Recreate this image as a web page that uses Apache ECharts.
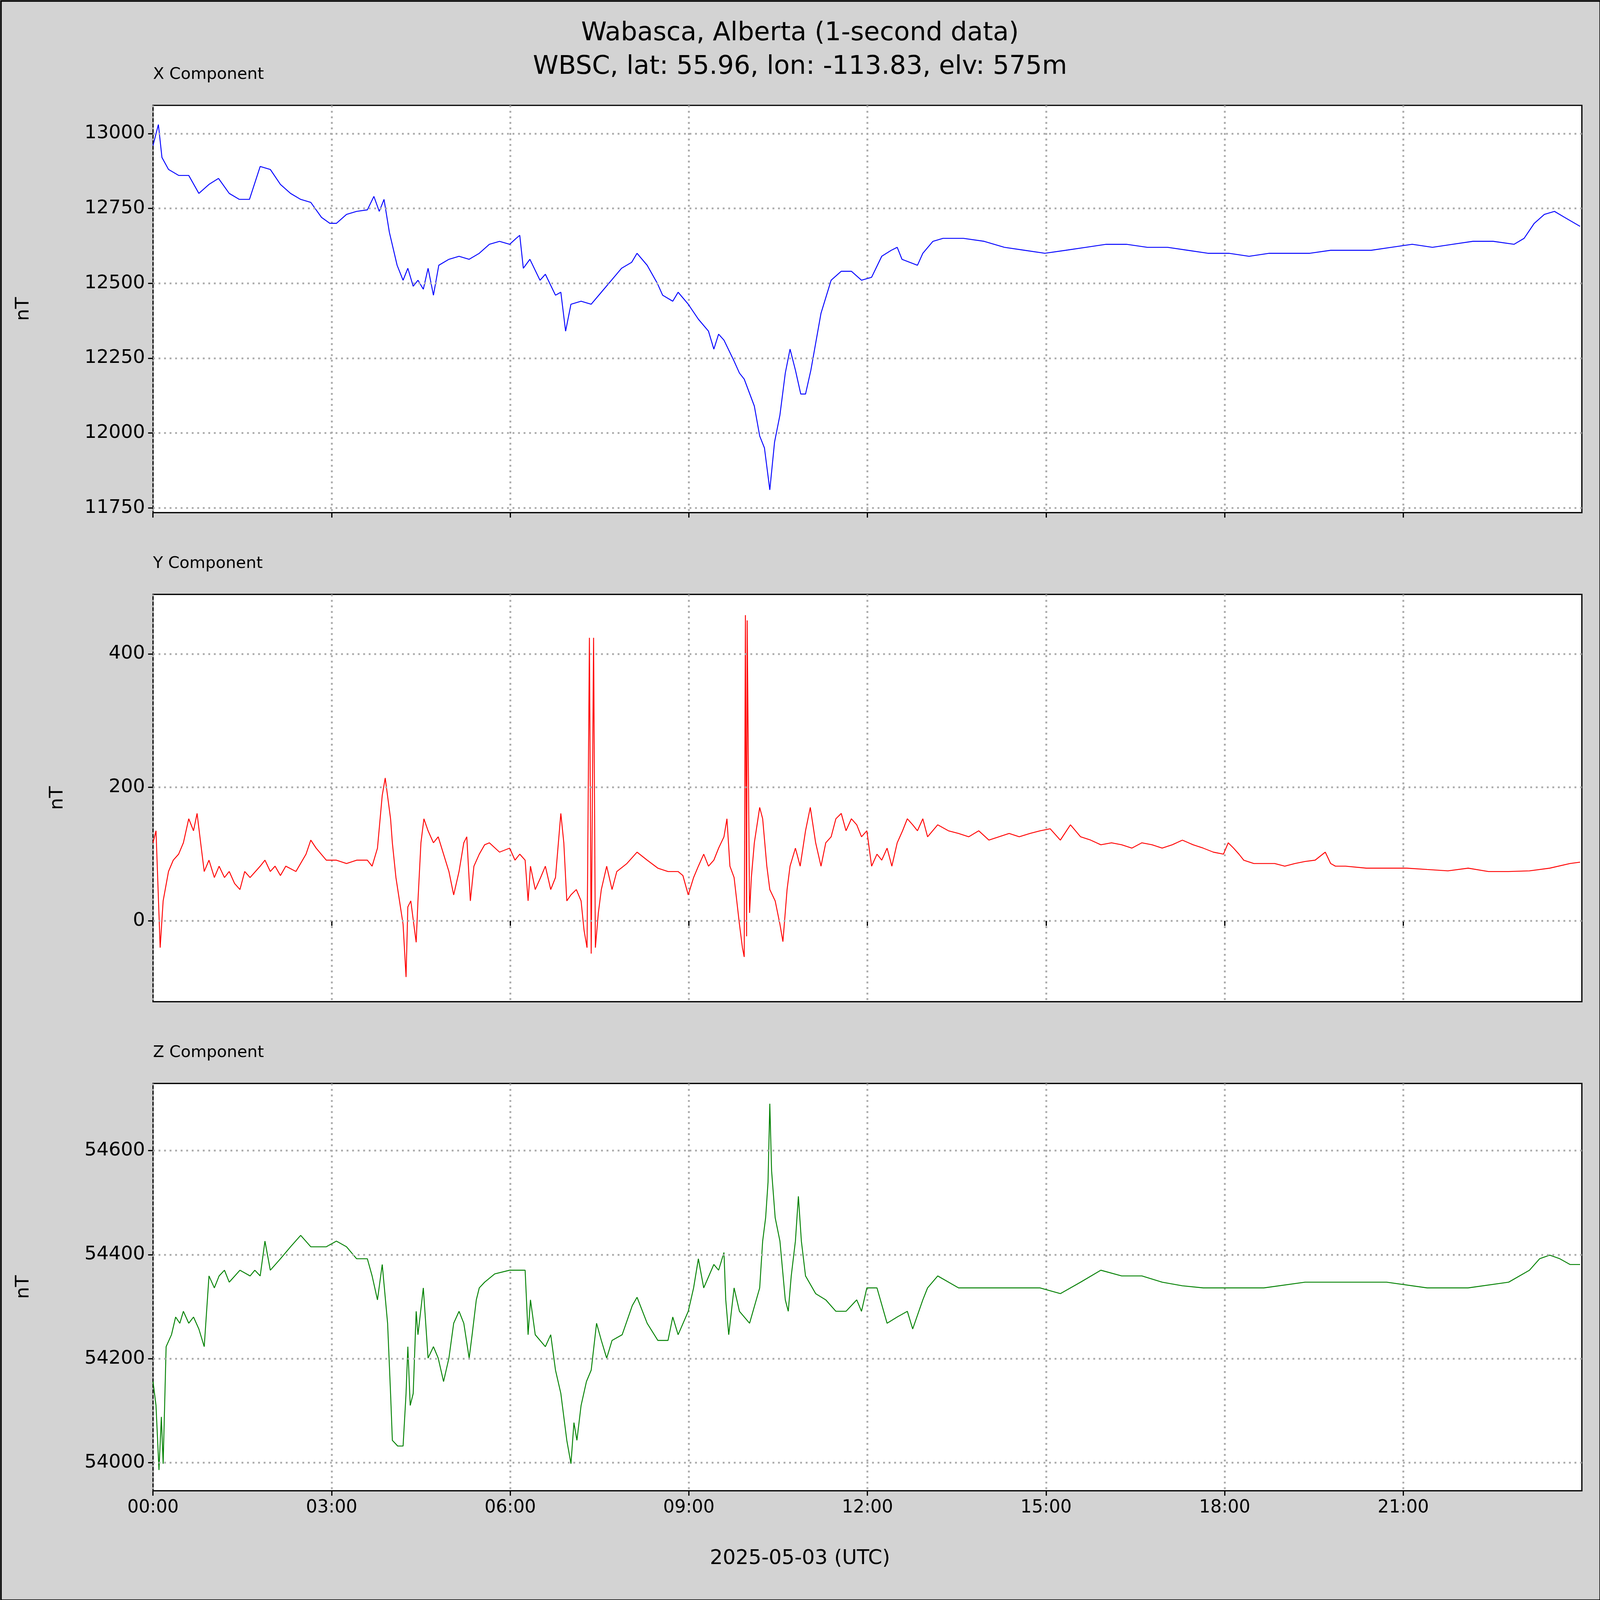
<!DOCTYPE html>
<html>
<head>
<meta charset="utf-8">
<script src="https://cdn.jsdelivr.net/npm/echarts@6/dist/echarts.min.js"></script>
<style>
  html, body { margin: 0; padding: 0; background: #d3d3d3; overflow: hidden; }
  #chart { width: 100vw; height: 100vh; }
</style>
</head>
<body>
<div id="chart"></div>
<script>
// [hour of day, nT]
const xComp = [[0,12960],[0.09,13030],[0.15,12920],[0.26,12880],[0.43,12860],[0.6,12860],[0.77,12800],[0.94,12830],[1.1,12850],[1.28,12800],[1.45,12780],[1.62,12780],[1.8,12890],[1.97,12880],[2.14,12830],[2.31,12800],[2.48,12780],[2.65,12770],[2.83,12720],[2.97,12700],[3.08,12700],[3.25,12730],[3.42,12740],[3.6,12745],[3.71,12790],[3.8,12740],[3.88,12780],[3.97,12670],[4.1,12560],[4.2,12510],[4.28,12550],[4.37,12490],[4.45,12510],[4.54,12480],[4.62,12550],[4.71,12460],[4.8,12560],[4.97,12580],[5.14,12590],[5.31,12580],[5.48,12600],[5.65,12630],[5.82,12640],[5.99,12630],[6.1,12650],[6.16,12660],[6.22,12550],[6.33,12580],[6.5,12510],[6.59,12530],[6.76,12460],[6.85,12470],[6.93,12340],[7.02,12430],[7.19,12440],[7.36,12430],[7.53,12470],[7.7,12510],[7.87,12550],[8.04,12570],[8.13,12600],[8.3,12560],[8.47,12500],[8.56,12460],[8.73,12440],[8.82,12470],[8.99,12430],[9.16,12380],[9.33,12340],[9.42,12280],[9.5,12330],[9.59,12310],[9.76,12240],[9.85,12200],[9.93,12180],[10.1,12090],[10.19,11990],[10.27,11950],[10.36,11810],[10.44,11970],[10.53,12060],[10.62,12200],[10.7,12280],[10.79,12210],[10.88,12130],[10.96,12130],[11.05,12210],[11.22,12400],[11.39,12510],[11.56,12540],[11.73,12540],[11.9,12510],[12.07,12520],[12.24,12590],[12.4,12610],[12.5,12620],[12.58,12580],[12.84,12560],[12.93,12600],[13.1,12640],[13.27,12650],[13.61,12650],[13.96,12640],[14.3,12620],[14.64,12610],[14.98,12600],[15.33,12610],[15.67,12620],[16.01,12630],[16.35,12630],[16.7,12620],[17.04,12620],[17.38,12610],[17.72,12600],[18.07,12600],[18.41,12590],[18.75,12600],[19.09,12600],[19.43,12600],[19.78,12610],[20.12,12610],[20.46,12610],[20.8,12620],[21.15,12630],[21.49,12620],[21.83,12630],[22.17,12640],[22.51,12640],[22.86,12630],[23.03,12650],[23.2,12700],[23.37,12730],[23.54,12740],[23.71,12720],[23.97,12690]];

const yComp = [[0,117],[0.05,135],[0.12,-40],[0.17,30],[0.26,74],[0.34,91],[0.43,100],[0.51,117],[0.6,153],[0.68,135],[0.74,161],[0.8,117],[0.86,74],[0.94,91],[1.03,65],[1.11,82],[1.2,65],[1.28,74],[1.37,56],[1.46,47],[1.54,74],[1.63,65],[1.8,82],[1.88,91],[1.97,74],[2.05,82],[2.14,68],[2.23,82],[2.4,74],[2.57,100],[2.65,121],[2.74,109],[2.91,91],[3.08,91],[3.25,86],[3.42,91],[3.6,91],[3.68,82],[3.77,109],[3.85,188],[3.9,214],[3.99,153],[4.02,117],[4.08,65],[4.14,30],[4.2,-5],[4.25,-84],[4.28,21],[4.33,30],[4.38,-5],[4.42,-32],[4.45,30],[4.5,117],[4.55,153],[4.62,135],[4.71,117],[4.79,126],[4.88,100],[4.97,74],[5.05,39],[5.14,74],[5.22,117],[5.27,126],[5.33,30],[5.39,82],[5.48,100],[5.57,114],[5.65,117],[5.82,103],[5.99,109],[6.08,91],[6.16,100],[6.25,91],[6.3,30],[6.34,82],[6.42,47],[6.51,65],[6.59,82],[6.68,47],[6.76,65],[6.85,161],[6.9,117],[6.95,30],[7.02,39],[7.11,47],[7.19,30],[7.24,-14],[7.29,-40],[7.33,424],[7.36,-49],[7.4,424],[7.43,-40],[7.48,12],[7.53,47],[7.62,82],[7.71,47],[7.79,74],[7.96,86],[8.13,103],[8.3,91],[8.48,79],[8.65,74],[8.82,74],[8.9,68],[8.99,39],[9.08,65],[9.16,82],[9.25,100],[9.33,82],[9.42,91],[9.5,109],[9.59,126],[9.64,153],[9.69,82],[9.76,65],[9.85,-5],[9.9,-40],[9.93,-54],[9.95,458],[9.97,-23],[9.98,450],[10.02,12],[10.05,65],[10.1,117],[10.19,170],[10.24,153],[10.31,82],[10.36,47],[10.45,30],[10.53,-5],[10.58,-31],[10.65,47],[10.7,82],[10.79,109],[10.87,82],[10.96,135],[11.04,170],[11.13,117],[11.22,82],[11.3,117],[11.39,126],[11.47,153],[11.56,161],[11.64,135],[11.73,153],[11.82,144],[11.9,126],[11.99,135],[12.07,82],[12.16,100],[12.24,91],[12.33,109],[12.41,82],[12.5,117],[12.59,135],[12.67,153],[12.76,144],[12.84,135],[12.93,153],[13.01,126],[13.18,144],[13.36,135],[13.53,131],[13.7,126],[13.87,135],[14.04,121],[14.21,126],[14.38,131],[14.55,126],[14.73,131],[14.9,135],[15.07,138],[15.24,121],[15.41,144],[15.58,126],[15.75,121],[15.92,114],[16.1,117],[16.27,114],[16.44,109],[16.61,117],[16.78,114],[16.95,109],[17.12,114],[17.29,121],[17.47,114],[17.64,109],[17.81,103],[17.98,100],[18.06,117],[18.15,109],[18.24,100],[18.32,91],[18.49,86],[18.66,86],[18.84,86],[19.01,82],[19.18,86],[19.35,89],[19.52,91],[19.69,103],[19.78,86],[19.86,82],[20.03,82],[20.38,79],[20.72,79],[21.06,79],[21.4,77],[21.75,75],[22.09,79],[22.43,74],[22.77,74],[23.12,75],[23.46,79],[23.8,86],[23.97,88]];

const zComp = [[0,54156],[0.05,54110],[0.1,53986],[0.14,54088],[0.17,53998],[0.22,54223],[0.31,54246],[0.38,54280],[0.45,54268],[0.51,54291],[0.6,54268],[0.68,54280],[0.77,54257],[0.86,54223],[0.94,54359],[1.03,54336],[1.11,54359],[1.2,54370],[1.28,54347],[1.46,54370],[1.63,54359],[1.71,54370],[1.8,54359],[1.88,54426],[1.97,54370],[2.14,54392],[2.31,54415],[2.48,54437],[2.65,54415],[2.91,54415],[3.08,54426],[3.25,54415],[3.42,54392],[3.6,54392],[3.68,54359],[3.77,54313],[3.85,54381],[3.94,54268],[3.99,54133],[4.02,54043],[4.11,54032],[4.2,54032],[4.25,54133],[4.28,54223],[4.32,54110],[4.37,54133],[4.42,54291],[4.45,54246],[4.54,54336],[4.62,54201],[4.71,54223],[4.79,54201],[4.88,54156],[4.97,54201],[5.05,54268],[5.14,54291],[5.22,54268],[5.31,54201],[5.36,54246],[5.43,54313],[5.48,54336],[5.57,54347],[5.74,54363],[5.99,54370],[6.25,54370],[6.3,54246],[6.34,54313],[6.42,54246],[6.59,54223],[6.68,54246],[6.76,54178],[6.85,54133],[6.95,54043],[7.02,53998],[7.07,54077],[7.12,54043],[7.19,54110],[7.28,54156],[7.36,54178],[7.45,54268],[7.53,54235],[7.62,54201],[7.71,54235],[7.88,54246],[8.05,54302],[8.13,54318],[8.3,54268],[8.48,54235],[8.65,54235],[8.73,54280],[8.82,54246],[8.99,54291],[9.08,54336],[9.16,54392],[9.25,54336],[9.42,54381],[9.5,54370],[9.59,54404],[9.62,54313],[9.67,54246],[9.76,54336],[9.85,54291],[10.02,54268],[10.19,54336],[10.24,54426],[10.29,54471],[10.33,54539],[10.36,54690],[10.39,54561],[10.45,54471],[10.53,54426],[10.62,54313],[10.67,54291],[10.72,54359],[10.79,54426],[10.84,54512],[10.89,54426],[10.96,54359],[11.13,54325],[11.3,54313],[11.47,54291],[11.64,54291],[11.82,54313],[11.9,54291],[11.99,54336],[12.16,54336],[12.33,54268],[12.5,54280],[12.67,54291],[12.76,54257],[12.93,54313],[13.01,54336],[13.18,54359],[13.53,54336],[13.87,54336],[14.21,54336],[14.55,54336],[14.9,54336],[15.24,54325],[15.58,54347],[15.92,54370],[16.27,54359],[16.61,54359],[16.95,54347],[17.29,54340],[17.64,54336],[17.98,54336],[18.66,54336],[19.35,54347],[20.03,54347],[20.72,54347],[21.4,54336],[22.09,54336],[22.77,54347],[23.12,54370],[23.29,54392],[23.46,54399],[23.63,54392],[23.8,54381],[23.97,54381]];

const hourTicks = [0, 3, 6, 9, 12, 15, 18, 21];
const xTicks = [11750, 12000, 12250, 12500, 12750, 13000];
const yTicks = [0, 200, 400];
const zTicks = [54000, 54200, 54400, 54600];
const ranges = [[11734, 13094], [-121, 489], [53946, 54729]];
const names = ['X Component', 'Y Component', 'Z Component'];
const colors = ['#0000ff', '#ff0000', '#008000'];
const nameGaps = [390, 280, 390];

const el = document.getElementById('chart');
const W = el.clientWidth, H = el.clientHeight;
const sx = W / 5207, sy = H / 4541, s = Math.min(sx, sy);

const tops = [299, 1687, 3075].map(v => v * sy);
const gridH = 1156 * sy;
const gridL = 498 * sx, gridR = 59 * sx;
const font = 'DejaVu Sans';
const dotted = { color: '#aaaaaa', width: 6 * s, type: [6 * s, 12 * s] };

const chart = echarts.init(el, null, { renderer: 'canvas' });
const tickSets = [xTicks, yTicks, zTicks];
const datas = [xComp, yComp, zComp];
const fmt = h => String(h).padStart(2, '0') + ':00';

chart.setOption({
  backgroundColor: '#d3d3d3',
  animation: false,
  title: {
    text: 'Wabasca, Alberta (1-second data)\nWBSC, lat: 55.96, lon: -113.83, elv: 575m',
    left: 'center', top: 42 * sy,
    textStyle: { fontFamily: font, fontSize: 84 * s, fontWeight: 'normal', color: '#000', lineHeight: 109 * s, align: 'center' }
  },
  grid: tops.map(t => ({ left: gridL, right: gridR, top: t, height: gridH, show: true, backgroundColor: '#fff', borderColor: '#000', borderWidth: 4 * s })),
  xAxis: tops.map((t, i) => ({
    type: 'value', gridIndex: i, min: 0, max: 24, interval: 3,
    axisLine: { show: false },
    axisTick: { show: true, length: 16 * s, lineStyle: { color: '#000', width: 4 * s }, customValues: hourTicks },
    axisLabel: { show: i === 2, customValues: hourTicks, formatter: fmt, fontFamily: font, fontSize: 58 * s, color: '#000', margin: 26 * s },
    splitLine: { show: true, lineStyle: dotted }
  })),
  yAxis: tops.map((t, i) => ({
    type: 'value', gridIndex: i, min: ranges[i][0], max: ranges[i][1],
    name: 'nT', nameLocation: 'middle', nameGap: nameGaps[i] * s, nameRotate: 90,
    nameTextStyle: { fontFamily: font, fontSize: 62 * s, color: '#000' },
    axisLine: { show: false },
    axisTick: { show: true, length: 16 * s, lineStyle: { color: '#000', width: 4 * s }, customValues: tickSets[i] },
    axisLabel: { customValues: tickSets[i], formatter: v => String(v), fontFamily: font, fontSize: 62 * s, color: '#000', margin: 26 * s },
    splitLine: { show: false }
  })),
  graphic: [
    ...names.map((n, i) => ({
      type: 'text', left: gridL, top: tops[i] - 110 * sy,
      style: { text: n, font: (53 * s) + 'px "DejaVu Sans"', fill: '#000' }
    })),
    { type: 'text', left: 'center', top: 4395 * sy, style: { text: '2025-05-03 (UTC)', font: (66 * s) + 'px "DejaVu Sans"', fill: '#000' } },
    { type: 'rect', left: 0, top: 0, shape: { width: W - 2, height: H - 2 }, style: { fill: 'none', stroke: '#000', lineWidth: 5 * s } }
  ],
  series: datas.map((d, i) => ({
    type: 'line', xAxisIndex: i, yAxisIndex: i, data: d, showSymbol: false,
    lineStyle: { color: colors[i], width: 3 * s }, clip: true,
    markLine: {
      silent: true, symbol: 'none', label: { show: false },
      lineStyle: dotted,
      data: tickSets[i].map(v => ({ yAxis: v }))
    }
  }))
});
</script>
</body>
</html>
